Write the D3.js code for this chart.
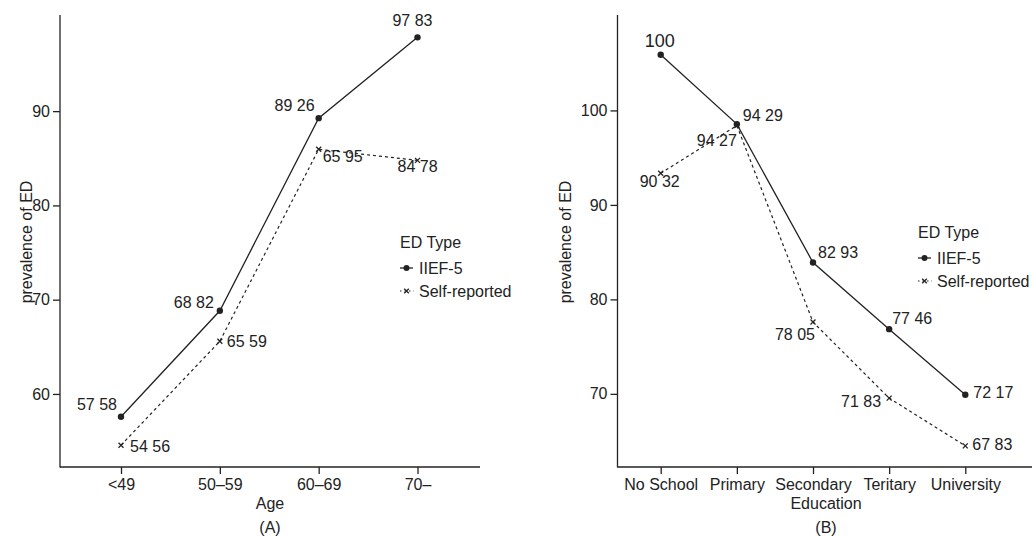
<!DOCTYPE html>
<html>
<head>
<meta charset="utf-8">
<script src="https://cdn.jsdelivr.net/npm/d3@7"></script>
<style>
  body { margin: 0; background: #fff; }
  svg { display: block; font-family: "Liberation Sans", Arial, sans-serif; }
  text { fill: #222; }
</style>
</head>
<body>
<svg width="1032" height="536"></svg>
<script>
// panel A: age groups
var ageCats = ["<49", "50–59", "60–69", "70–"];
var ageIIEF = [57.58, 68.82, 89.26, 97.83];
var ageSelf = [54.56, 65.59, 85.95, 84.78];
var ageIIEFLabels = ["57 58", "68 82", "89 26", "97 83"];
var ageSelfLabels = ["54 56", "65 59", "65 95", "84 78"];
var ageTicks = [60, 70, 80, 90];

// panel B: education
var eduCats = ["No School", "Primary", "Secondary", "Teritary", "University"];
var eduIIEF = [105.9, 98.55, 83.9, 76.85, 69.9];
var eduSelf = [93.35, 98.4, 77.6, 69.55, 64.5];
var eduIIEFLabels = ["100", "94 29", "82 93", "77 46", "72 17"];
var eduSelfLabels = ["90 32", "94 27", "78 05", "71 83", "67 83"];
var eduTicks = [70, 80, 90, 100];

var seriesNames = ["IIEF-5", "Self-reported"];

var svg = d3.select("svg");
var ink = "#222";
var fs = 16;

function panel(opt) {
  var g = svg.append("g");
  var x = d3.scalePoint().domain(opt.cats).range(opt.xRange);
  var y = d3.scaleLinear().domain(opt.yDomain).range([467, 15]);

  // axes
  var ya = g.append("g").attr("transform", "translate(" + opt.x0 + ",0)")
    .call(d3.axisLeft(y).tickValues(opt.ticks).tickSize(7).tickPadding(3));
  var xa = g.append("g").attr("transform", "translate(0,467)")
    .call(d3.axisBottom(x).tickSize(7).tickPadding(5));
  [ya, xa].forEach(function (a) {
    a.select(".domain").remove();
    a.selectAll("line").attr("stroke", ink).attr("stroke-width", 1.3);
    a.selectAll("text").attr("font-size", fs).attr("font-family", null).style("fill", ink);
  });
  g.append("line").attr("x1", opt.x0).attr("x2", opt.x0).attr("y1", 15).attr("y2", 467.6)
    .attr("stroke", ink).attr("stroke-width", 1.3);
  g.append("line").attr("x1", opt.x0).attr("x2", opt.x1).attr("y1", 467).attr("y2", 467)
    .attr("stroke", ink).attr("stroke-width", 1.3);

  // titles
  g.append("text").attr("transform", "translate(" + opt.yTitleX + ",242) rotate(-90)")
    .attr("text-anchor", "middle").attr("font-size", fs).text("prevalence of ED");
  g.append("text").attr("x", opt.xMid).attr("y", 509).attr("text-anchor", "middle")
    .attr("font-size", fs).text(opt.xTitle);
  g.append("text").attr("x", opt.xMid).attr("y", 533).attr("text-anchor", "middle")
    .attr("font-size", fs).text(opt.tag);

  var line = d3.line().x(function (d, i) { return x(opt.cats[i]); }).y(function (d) { return y(d); });

  // lines
  g.append("path").datum(opt.self).attr("d", line).attr("fill", "none")
    .attr("stroke", ink).attr("stroke-width", 1.2).attr("stroke-dasharray", "3,3");
  g.append("path").datum(opt.iief).attr("d", line).attr("fill", "none")
    .attr("stroke", ink).attr("stroke-width", 1.3);

  // markers
  g.selectAll(".dot").data(opt.iief).enter().append("circle")
    .attr("cx", function (d, i) { return x(opt.cats[i]); })
    .attr("cy", function (d) { return y(d); })
    .attr("r", 3.2).attr("fill", ink);
  g.selectAll(".cross").data(opt.self).enter().append("path")
    .attr("transform", function (d, i) { return "translate(" + x(opt.cats[i]) + "," + y(d) + ")"; })
    .attr("d", "M-2.5,-2.5L2.5,2.5M-2.5,2.5L2.5,-2.5")
    .attr("stroke", ink).attr("stroke-width", 1.3);

  // value labels
  function labels(vals, texts, offs) {
    g.selectAll(null).data(vals).enter().append("text")
      .attr("x", function (d, i) { return x(opt.cats[i]) + offs[i][0]; })
      .attr("y", function (d, i) { return y(d) + offs[i][1]; })
      .attr("text-anchor", function (d, i) { return offs[i][2]; })
      .attr("font-size", function (d, i) { return offs[i][3] || fs; })
      .text(function (d, i) { return texts[i]; });
  }
  labels(opt.iief, opt.iiefLabels, opt.iiefOffs);
  labels(opt.self, opt.selfLabels, opt.selfOffs);

  // legend
  var lg = g.append("g").attr("transform", "translate(" + opt.legend[0] + "," + opt.legend[1] + ")");
  lg.append("text").attr("x", 0).attr("y", 0).attr("font-size", fs).text("ED Type");
  lg.append("line").attr("x1", 0).attr("x2", 13).attr("y1", 20).attr("y2", 20)
    .attr("stroke", ink).attr("stroke-width", 1.3);
  lg.append("circle").attr("cx", 6.5).attr("cy", 20).attr("r", 3).attr("fill", ink);
  lg.append("text").attr("x", 19).attr("y", 25.5).attr("font-size", fs).text(seriesNames[0]);
  lg.append("line").attr("x1", 0).attr("x2", 14).attr("y1", 43).attr("y2", 43)
    .attr("stroke", ink).attr("stroke-width", 1.2).attr("stroke-dasharray", "1.5,3");
  lg.append("path").attr("transform", "translate(6.5,43)")
    .attr("d", "M-2.3,-2.3L2.3,2.3M-2.3,2.3L2.3,-2.3").attr("stroke", ink).attr("stroke-width", 1.3);
  lg.append("text").attr("x", 19).attr("y", 48.5).attr("font-size", fs).text(seriesNames[1]);
}

panel({
  cats: ageCats, iief: ageIIEF, self: ageSelf,
  iiefLabels: ageIIEFLabels, selfLabels: ageSelfLabels,
  iiefOffs: [[-4, -7, "end"], [-6, -3, "end"], [-4, -7, "end"], [-5, -11, "middle"]],
  selfOffs: [[9, 7, "start"], [7, 6, "start"], [4, 13, "start"], [-20, 12, "start"]],
  ticks: ageTicks, yDomain: [52.25, 100.2],
  xRange: [121, 417.5], x0: 60, x1: 480, xMid: 270,
  yTitleX: 32, xTitle: "Age", tag: "(A)", legend: [400, 248]
});

panel({
  cats: eduCats, iief: eduIIEF, self: eduSelf,
  iiefLabels: eduIIEFLabels, selfLabels: eduSelfLabels,
  iiefOffs: [[-1, -8, "middle", 18], [6, -3, "start"], [5, -5, "start"], [3, -5, "start"], [8, 3, "start"]],
  selfOffs: [[-21, 14, "start"], [-40, 20, "start"], [2, 18, "end"], [-8, 9, "end"], [7, 4, "start"]],
  ticks: eduTicks, yDomain: [62.26, 110.1],
  xRange: [660.7, 965.3], x0: 617.5, x1: 1032, xMid: 826,
  yTitleX: 571, xTitle: "Education", tag: "(B)", legend: [918, 238]
});
</script>
</body>
</html>
